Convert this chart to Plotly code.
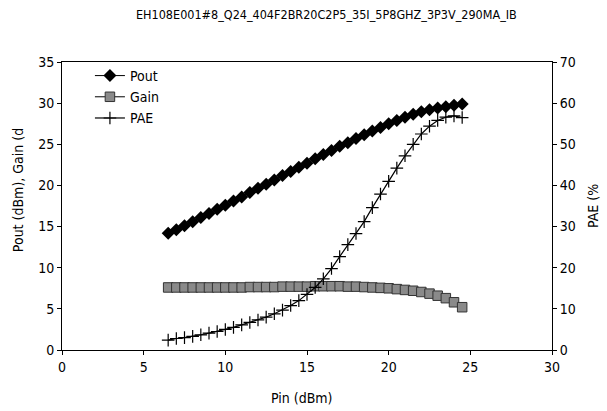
import plotly.graph_objects as go

title_text = "EH108E001#8_Q24_404F2BR20C2P5_35I_5P8GHZ_3P3V_290MA_IB"
x_title = "Pin (dBm)"
y_title = "Pout (dBm), Gain (d"
y2_title = "PAE (%"

pin = [6.5, 7.0, 7.5, 8.0, 8.5, 9.0, 9.5, 10.0, 10.5, 11.0, 11.5, 12.0, 12.5,
       13.0, 13.5, 14.0, 14.5, 15.0, 15.5, 16.0, 16.5, 17.0, 17.5, 18.0, 18.5,
       19.0, 19.5, 20.0, 20.5, 21.0, 21.5, 22.0, 22.5, 23.0, 23.5, 24.0, 24.5]

pout = [14.2, 14.6, 15.1, 15.6, 16.1, 16.6, 17.1, 17.6, 18.1, 18.6, 19.15, 19.65,
        20.15, 20.65, 21.2, 21.7, 22.2, 22.7, 23.25, 23.75, 24.25, 24.75, 25.2,
        25.7, 26.15, 26.6, 27.05, 27.5, 27.9, 28.3, 28.65, 28.95, 29.2, 29.4,
        29.55, 29.75, 29.9]

gain = [7.6, 7.6, 7.6, 7.6, 7.6, 7.6, 7.6, 7.6, 7.6, 7.6, 7.65, 7.65, 7.65,
        7.65, 7.7, 7.7, 7.7, 7.7, 7.75, 7.75, 7.75, 7.75, 7.7, 7.7, 7.65,
        7.6, 7.55, 7.5, 7.4, 7.3, 7.2, 7.05, 6.85, 6.6, 6.3, 5.8, 5.2]

pae = [2.4, 2.8, 3.0, 3.3, 3.7, 4.1, 4.5, 5.0, 5.5, 6.1, 6.7, 7.3, 8.0,
       8.8, 9.7, 10.8, 12.0, 13.5, 15.2, 17.3, 19.8, 22.7, 25.6, 28.3, 31.2,
       34.6, 37.9, 41.0, 44.2, 47.2, 50.0, 52.5, 54.4, 55.8, 56.6, 56.9, 56.5]

FONT = "DejaVu Sans Condensed, Liberation Sans Narrow, sans-serif"

fig = go.Figure()
fig.add_trace(go.Scatter(
    x=pin, y=pout, name="Pout", mode="lines+markers",
    line=dict(color="black", width=1),
    marker=dict(symbol="diamond", size=10, color="black"),
))
fig.add_trace(go.Scatter(
    x=pin, y=gain, name="Gain", mode="lines+markers",
    line=dict(color="black", width=1),
    marker=dict(symbol="square", size=9.5, color="#8a8a8a",
                line=dict(color="#333333", width=1)),
))
fig.add_trace(go.Scatter(
    x=pin, y=pae, name="PAE", mode="lines+markers", yaxis="y2",
    line=dict(color="black", width=1.2),
    marker=dict(symbol="cross-thin", size=9,
                line=dict(color="black", width=1.2)),
))

axis_common = dict(
    showgrid=False, zeroline=False, showline=True, linecolor="black",
    linewidth=1, ticks="outside", ticklen=4, tickcolor="black",
    automargin=False,
    tickfont=dict(family=FONT, size=14, color="black"),
)

fig.update_layout(
    width=607, height=411,
    margin=dict(l=62, r=55, t=62, b=61, autoexpand=False),
    paper_bgcolor="white", plot_bgcolor="white",
    font=dict(family=FONT, color="black"),
    showlegend=True,
    legend=dict(x=0.057, y=1.007, xanchor="left", yanchor="top",
                bgcolor="rgba(0,0,0,0)", font=dict(family=FONT, size=14),
                tracegroupgap=0, itemwidth=30),
    xaxis=dict(range=[0, 30], dtick=5, mirror=True, **axis_common),
    yaxis=dict(range=[0, 35], dtick=5, **axis_common),
    yaxis2=dict(range=[0, 70], dtick=10, overlaying="y", side="right",
                **axis_common),
    annotations=[
        dict(text=title_text, xref="paper", yref="paper",
             x=0.539, y=1.0, yshift=48, showarrow=False,
             xanchor="center", yanchor="middle",
             font=dict(family=FONT, size=12.5, color="black")),
        dict(text=x_title, xref="paper", yref="paper",
             x=0.49, y=0.0, yshift=-48, showarrow=False,
             xanchor="center", yanchor="middle",
             font=dict(family=FONT, size=14, color="black")),
        dict(text=y_title, xref="paper", yref="paper",
             x=0.0, xshift=-44, y=0.555, showarrow=False, textangle=-90,
             xanchor="center", yanchor="middle",
             font=dict(family=FONT, size=14, color="black")),
        dict(text=y2_title, xref="paper", yref="paper",
             x=1.0, xshift=41, y=0.50, showarrow=False, textangle=-90,
             xanchor="center", yanchor="middle",
             font=dict(family=FONT, size=14, color="black")),
    ],
)

fig.write_html("out.html",
               config={"displayModeBar": False},
               post_script="document.body.style.margin='0';"
                           "document.body.style.overflow='hidden';")
